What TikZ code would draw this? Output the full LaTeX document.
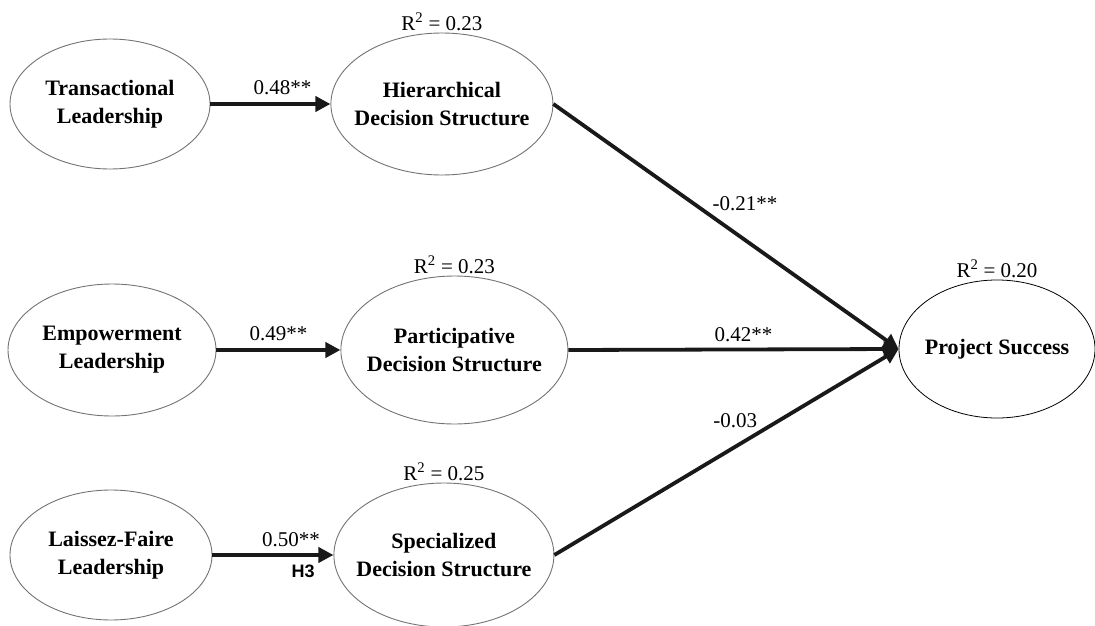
\documentclass[tikz,border=0pt]{standalone}
\usepackage{fontspec}
\setmainfont{Liberation Serif}
\newfontfamily\hypfont{Liberation Sans}
\usetikzlibrary{positioning, arrows.meta, shapes.geometric}
\tikzset{
	construct/.style={ellipse, draw=black!55, line width=0.9pt, inner xsep=-20pt, inner ysep=0pt,
		align=center, font=\fontsize{22}{28}\selectfont\bfseries},
	patharr/.style={-{Triangle[length=15pt, width=15pt]}, line width=3.8pt, draw=black!90},
	coef/.style={font=\fontsize{21}{24}\selectfont, inner sep=2pt},
	rsq/.style={font=\fontsize{21}{24}\selectfont, inner sep=1pt},
	hyp/.style={font=\fontsize{18}{20}\selectfont\hypfont\bfseries, inner sep=2pt}
}
\begin{document}
\begin{tikzpicture}[x=1pt, y=-1pt, node distance=120pt]
	\useasboundingbox (0,0) rectangle (1095,626);
	% left column
	\node[construct, minimum width=200pt, minimum height=130pt] (trans) at (110,104) {Transactional\\Leadership};
	\node[construct, minimum width=208pt, minimum height=132pt] (emp) at (112,350) {Empowerment\\Leadership};
	\node[construct, minimum width=202pt, minimum height=130pt] (lais) at (111,555) {Laissez-Faire\\Leadership};
	% mediators
	\node[construct, minimum width=222pt, minimum height=142pt, right=of trans] (hier) {Hierarchical\\Decision Structure};
	\node[construct, minimum width=227pt, minimum height=148pt, right=124pt of emp] (part) {Participative\\Decision Structure};
	\node[construct, minimum width=220pt, minimum height=144pt, right=121pt of lais] (spec) {Specialized\\Decision Structure};
	% outcome
	\node[construct, draw=black, line width=0.8pt, minimum width=196pt, minimum height=138pt] (proj) at (997,349) {Project Success};
	\foreach \n/\r in {hier/0.23, part/0.23, spec/0.25, proj/0.20}
		\node[rsq, above=1pt of \n] (r-\n) {R\textsuperscript{2} = \r};
	% paths
	\draw[patharr] (trans.east) -- node[coef, pos=0.6, above=5pt] (c-th) {0.48**} (hier.west);
	\draw[patharr] (emp.east) -- node[coef, pos=0.5, above=5pt] (c-ep) {0.49**} (part.west);
	\draw[patharr] (lais.east) -- node[coef, pos=0.65, above=4pt] (c-ls) {0.50**}
		node[hyp, pos=0.75, below=6pt] (h3) {H3} (spec.west);
	\draw[patharr] (hier.east) -- node[coef, pos=0.45, anchor=south west] (c-hp) {-0.21**} (proj.west);
	\draw[patharr] (part.east) -- node[coef, pos=0.53, above=4pt] (c-pp) {0.42**} (proj.west);
	\draw[patharr] (spec.east) -- node[coef, pos=0.6, anchor=south east] (c-sp) {-0.03} (proj.west);
\end{tikzpicture}
\end{document}
